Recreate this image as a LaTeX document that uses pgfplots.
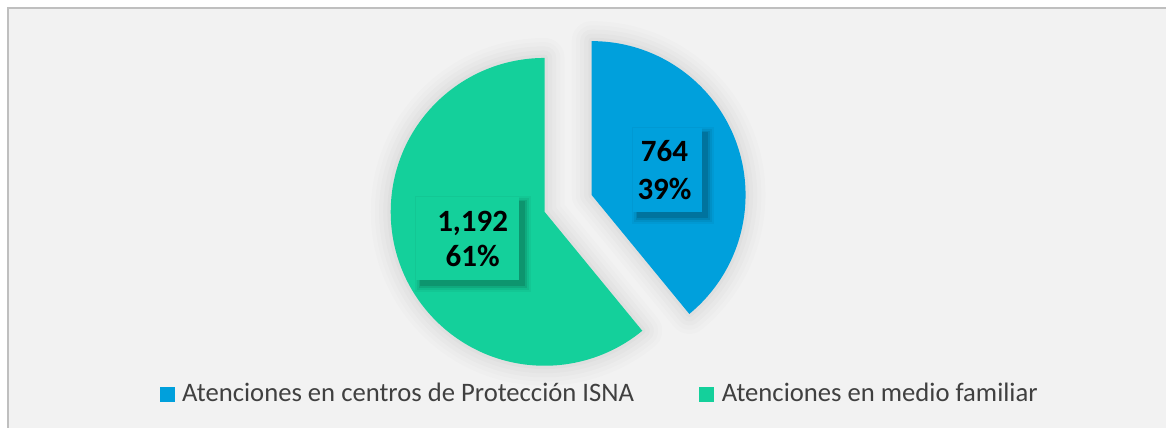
\documentclass[border=0pt]{standalone}
\usepackage{pgfplots}
\pgfplotsset{compat=1.18}
\usepackage{pgfplotstable}
\usepackage{fontspec}
\setmainfont{Carlito}
\definecolor{cblue}{RGB}{0,160,220}
\definecolor{cgreen}{RGB}{20,208,155}
\definecolor{framebg}{RGB}{242,242,242}
\definecolor{frameline}{RGB}{191,191,191}
\definecolor{legtext}{RGB}{64,64,64}
\pgfplotstableread{
label value
ISNA 764
Familiar 1192
}\piedata
\pgfplotstablegetelem{0}{value}\of\piedata \let\va\pgfplotsretval
\pgfplotstablegetelem{1}{value}\of\piedata \let\vb\pgfplotsretval
\pgfmathsetmacro{\fracA}{\va/(\va+\vb)}
\pgfmathsetmacro{\angA}{360*\fracA}
\pgfmathsetmacro{\endA}{90-\angA}
\pgfmathsetmacro{\endB}{90+360-\angA}
\pgfmathsetmacro{\midA}{90-\angA/2}
\def\R{92.4pt}
\def\greenpath{(axis cs:545,216) -- ++(90:\R) arc[start angle=90, end angle=\endB, radius=\R] -- cycle}
\def\bluepath{(axis cs:545,216) ++(\midA:30pt) -- ++(90:\R) arc[start angle=90, end angle=\endA, radius=\R] -- cycle}
\tikzset{halo/.style={black, opacity=#1, line join=round}}
% label box shadow: #1,#2 lower-left, #3,#4 upper-right (axis units)
\newcommand{\boxshadow}[4]{%
  \fill[black, opacity=0.04] (axis cs:#1-1,#2-12) rectangle (axis cs:#3+12,#4+1);
  \fill[black, opacity=0.06] (axis cs:#1+1,#2-10) rectangle (axis cs:#3+10,#4-1);
  \fill[black, opacity=0.09] (axis cs:#1+3,#2-8) rectangle (axis cs:#3+8,#4-3);
  \fill[black, opacity=0.12] (axis cs:#1+4,#2-6) rectangle (axis cs:#3+6,#4-4);
}
\begin{document}
\begin{tikzpicture}
\begin{axis}[
  x=0.6pt, y=0.6pt,
  xmin=0, xmax=1167, ymin=0, ymax=428,
  hide axis, clip=false,
]
% background
\fill[white] (axis cs:0,0) rectangle (axis cs:1167,428);
\fill[framebg] (axis cs:8,0) rectangle (axis cs:1167,420);
\draw[frameline, line width=1pt] (axis cs:8,0) -- (axis cs:8,420) -- (axis cs:1167,420);
% soft shadows
\draw[halo=0.012, line width=24pt] \greenpath;
\draw[halo=0.012, line width=24pt] \bluepath;
\draw[halo=0.012, line width=19pt] \greenpath;
\draw[halo=0.012, line width=19pt] \bluepath;
\draw[halo=0.014, line width=14pt] \greenpath;
\draw[halo=0.014, line width=14pt] \bluepath;
\draw[halo=0.016, line width=9pt] \greenpath;
\draw[halo=0.016, line width=9pt] \bluepath;
\draw[halo=0.018, line width=4pt] \greenpath;
\draw[halo=0.018, line width=4pt] \bluepath;
% slices
\fill[cgreen] \greenpath;
\fill[cblue] \bluepath;
% label boxes
\boxshadow{633}{216}{702}{300}
\fill[cblue] (axis cs:633,216) rectangle (axis cs:702,300);
\boxshadow{416}{148}{519}{231}
\fill[cgreen] (axis cs:416,148) rectangle (axis cs:519,231);
% labels
\node[font=\fontsize{18.6}{22.5}\selectfont\bfseries, align=center, inner sep=0pt]
  at (axis cs:665,258) {764\\39\%};
\node[font=\fontsize{18.6}{21}\selectfont\bfseries, align=center, inner sep=0pt]
  at (axis cs:473,189) {1,192\\61\%};
% legend
\fill[cblue] (axis cs:160,26) rectangle (axis cs:175,41);
\node[anchor=base west, text=legtext, font=\fontsize{16}{19}\selectfont, inner sep=0pt]
  at (axis cs:182,26) {Atenciones en centros de Protección ISNA};
\fill[cgreen] (axis cs:699,26) rectangle (axis cs:714,41);
\node[anchor=base west, text=legtext, font=\fontsize{16}{19}\selectfont, inner sep=0pt]
  at (axis cs:722,26) {Atenciones en medio familiar};
\end{axis}
\end{tikzpicture}
\end{document}
